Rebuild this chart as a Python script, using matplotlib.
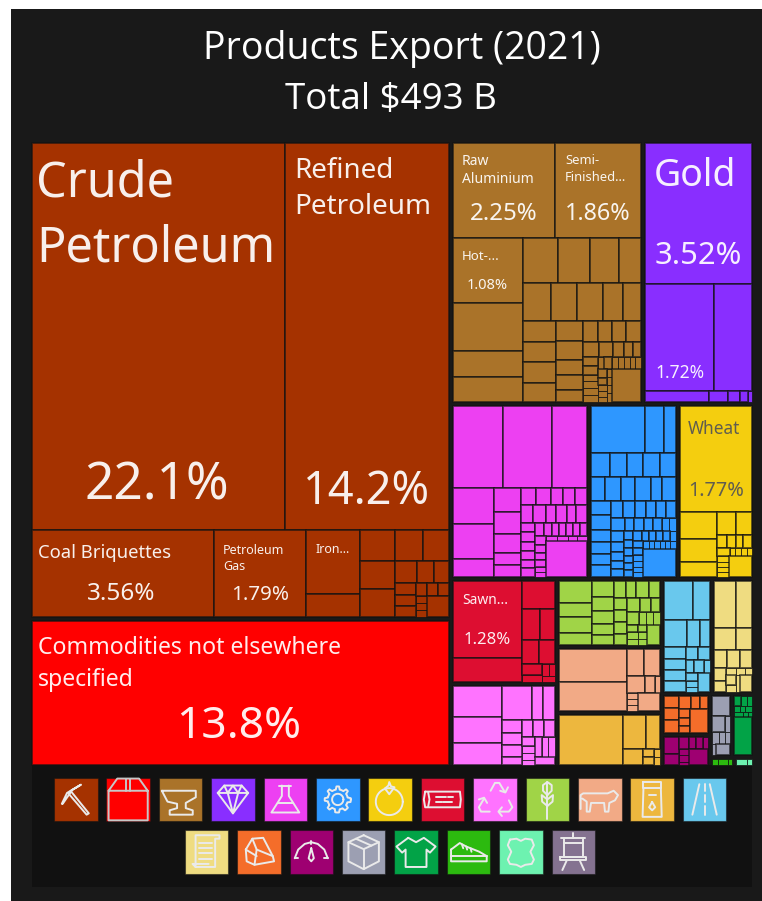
import matplotlib
matplotlib.use("Agg")
import matplotlib.pyplot as plt
from matplotlib.patches import Rectangle
import numpy as np

plt.rcParams['font.family'] = ['Noto Sans', 'DejaVu Sans']

# share of total exports per section, percent
group_names = ["Mineral", "Commodities", "Metals", "Precious", "Chemicals", "Machines", "Foodstuffs",
               "Wood", "Plastics", "Vegetable", "Animal", "AnimalVeg", "Transport", "Paper",
               "Stone", "Instruments", "Misc", "Textiles", "Footwear", "Hides"]
group_share = [44.35, 13.73, 11.14, 6.47, 5.35, 3.44, 2.93,
               2.46, 1.94, 1.58, 1.53, 1.25, 1.27, 1.07,
               0.429, 0.344, 0.30, 0.31, 0.053, 0.044]
group_colors = ["#A53200", "#FF0000", "#AA7329", "#892EFF", "#ED40F2", "#2E97FF", "#F4CE0F",
                "#DD0E31", "#FF73FF", "#A0D447", "#F2AA86", "#EDB73E", "#69C8ED", "#EFDC81",
                "#F46D2A", "#9E0071", "#9C9FB2", "#02A347", "#2CBA0F", "#6DF2B0"]
# how the sections stack: n > 0 = row of n across the top, n < 0 = column of n at the left
group_rows = [-2, 2, 3, -2, -3, 2, -2, 2, -1, -1]

# products per section, estimated value in $M
mineral = [107702, 69389, 17322, 8804, 3802, 1366, 1159, 1047, 1047, 955, 887, 532, 411, 363,
           266, 266, 266, 157, 157, 143, 85, 85, 85, 485]
mineral_rows = [2, -1, -1, -2, -3, 2, 3, -3, 3, -3, 1]
commodities = [67000]
commodities_rows = [1]
metals = [10547, 8789, 5009, 3643, 1973, 1898, 1733, 1584, 1436, 1089, 1170, 1087, 1087, 836, 752,
          762, 726, 762, 690, 564, 564, 446, 446, 356, 330, 308, 308, 308, 264, 231, 182, 149, 132,
          139, 139, 108, 108, 108, 108, 90, 100, 90, 80, 80, 70, 70, 88, 77, 66, 55, 55,
          39, 39, 44, 44, 1021]
metals_rows = [2, -4, 4, 5, -4, -5, 4, 5, -6, 7, -5, -4, 1]
precious = [16596, 8121, 4473, 774, 230, 145, 92, 53]
precious_rows = [1, 2, -1, -1, -1, 2]
chemicals = [4455, 4277, 3119, 1624, 1533, 812, 713, 624, 564, 356, 356, 280, 262, 224, 224, 224,
             238, 238, 198, 218, 178, 218, 123, 154, 139, 139, 123, 139,
             106, 106, 92, 92, 92, 92, 92, 99, 88, 77, 77, 55, 55, 60, 60, 50, 55, 1624]
chemicals_rows = [3, -3, -5, 5, 6, -6, 7, -6, 4, 1]
machines = [2732, 961, 607, 502, 449, 422, 449, 422, 370, 422, 370, 422, 290, 370,
            308, 308, 275, 264, 231, 264, 224, 224, 206, 187, 187, 187,
            185, 119, 132, 119, 119, 92, 92, 157, 143, 129, 114, 114,
            89, 79, 79, 69, 69, 69, 99, 77, 77, 77, 77, 66,
            77, 77, 66, 66, 55, 55, 53, 44, 53, 44, 44, 53, 1016]
machines_rows = [3, 5, 6, -6, 6, 7, -5, -6, 6, -6, 6, 1]
foodstuffs = [8237, 1099, 895, 610, 481, 405, 143, 129, 100, 129, 114, 44, 53, 53, 44, 79, 66, 66, 66, 531]
foodstuffs_rows = [1, -3, 2, 4, 5, -4, 1]
wood = [5768, 1822, 980, 614, 512, 449, 422, 242, 154, 79, 72, 86]
wood_rows = [-2, 1, 2, 2, -2, 2, 1]
plastics = [1671, 1401, 1186, 1089, 399, 436, 286, 264, 242, 176, 206, 206, 206, 129, 100, 100, 72,
            154, 132, 132, 176]
plastics_rows = [-3, 3, -4, 3, -4, 3, 1]
vegetable = [799, 508, 581, 436, 387, 339, 315, 266, 242, 224, 187, 243, 206, 172, 172, 172, 157,
             186, 157, 129, 172, 100, 100, 100, 85, 73, 73, 77, 66, 66, 277]
vegetable_rows = [-4, -5, 4, -4, 3, 4, -3, -3, 1]
animal = [2468, 2169, 505, 475, 337, 187, 94, 73, 73, 73, 436]
animal_rows = [-2, 2, 3, -3, 1]
animalveg = [3520, 860, 524, 352, 97, 53, 97, 53]
animalveg_rows = [-1, 2, -1, 2, 2]
transport = [1244, 729, 683, 386, 297, 290, 266, 266, 266, 172, 172, 114, 143, 86, 106, 79, 66, 251]
transport_rows = [2, 3, -4, 2, 3, -3, 1]
paper = [1137, 827, 532, 387, 272, 251, 251, 172, 145, 77, 69, 54, 110, 77, 75, 224]
paper_rows = [2, 2, 3, -2, 3, -2, -1, 1]
stone = [198, 198, 198, 157, 129, 114, 99, 77, 77, 455]
stone_rows = [-3, 3, -3, 1]
instruments = [280, 181, 119, 92, 92, 66, 55, 66, 33, 317]
instruments_rows = [-2, 4, -3, 1]
misc = [356, 214, 82, 86, 86, 57, 44, 154]
misc_rows = [1, 2, 3, 2]
textiles = [77, 66, 55, 46, 33, 46, 55, 27, 22, 752]
textiles_rows = [3, 3, 3, 1]
footwear = [36, 60, 24]
footwear_rows = [-1, -1, -1]
hides = [48, 24]
hides_rows = [-1, -1]

group_values = [mineral, commodities, metals, precious, chemicals, machines, foodstuffs, wood, plastics,
                vegetable, animal, animalveg, transport, paper, stone, instruments, misc, textiles,
                footwear, hides]
group_layout = [mineral_rows, commodities_rows, metals_rows, precious_rows, chemicals_rows, machines_rows,
                foodstuffs_rows, wood_rows, plastics_rows, vegetable_rows, animal_rows, animalveg_rows,
                transport_rows, paper_rows, stone_rows, instruments_rows, misc_rows, textiles_rows,
                footwear_rows, hides_rows]

legend_colors = ["#A53200", "#FF0000", "#AA7329", "#892EFF", "#ED40F2", "#2E97FF", "#F4CE0F", "#DD0E31",
                 "#FF73FF", "#A0D447", "#F2AA86", "#EDB73E", "#69C8ED",
                 "#EFDC81", "#F46D2A", "#9E0071", "#9C9FB2", "#02A347", "#2CBA0F", "#6DF2B0", "#847290"]


def layout(values, rows, x0, y0, x1, y1):
    assert sum(abs(n) for n in rows) == len(values)
    total = float(sum(values))
    out = []
    i = 0
    for n in rows:
        part = values[i:i + abs(n)]
        s = float(sum(part))
        if n > 0:
            h = (y1 - y0) * s / total
            x = x0
            for v in part:
                w = (x1 - x0) * v / s
                out.append((x, y0, w, h))
                x += w
            y0 += h
        else:
            w = (x1 - x0) * s / total
            y = y0
            for v in part:
                h = (y1 - y0) * v / s
                out.append((x0, y, w, h))
                y += h
            x0 += w
        total -= s
        i += abs(n)
    return out


fig = plt.figure(figsize=(7.62, 9.01), dpi=100, facecolor="white")
ax = fig.add_axes([0, 0, 1, 1])
ax.set_xlim(0, 762)
ax.set_ylim(901, 0)
ax.axis("off")

ax.add_patch(Rectangle((11, 8.5), 751, 892.5, fc="#191919", ec="none"))
ax.add_patch(Rectangle((32, 765), 720, 122, fc="#111111", ec="none"))

ax.text(402, 49, "Products Export (2021)", color="white", fontsize=27, ha="center", va="center", family="Open Sans")
ax.text(391, 100, "Total $493 B", color="white", fontsize=26.5, ha="center", va="center", family="Open Sans")

# treemap: sections first, then the products inside each section
pad = 2
sections = layout(group_share, group_rows, 30, 141, 754, 767)
for (gx, gy, gw, gh), vals, rows, col in zip(sections, group_values, group_layout, group_colors):
    tiles = layout(vals, rows, gx + pad, gy + pad, gx + gw - pad, gy + gh - pad)
    for (x, y, w, h) in tiles:
        lw = 1.25 if min(w, h) > 7 else 0.7
        ax.add_patch(Rectangle((x, y), w, h, fc=col, ec=(0.07, 0.07, 0.07, 0.72), lw=lw, zorder=3))


def label(x, y, s, size, color="white", ha="left"):
    ax.text(x, y + 2.5, s, fontsize=size, color=color, ha=ha, va="center", family=["Noto Sans", "DejaVu Sans"], alpha=0.93, zorder=4)


label(36, 181, "Crude", 35)
label(36, 246, "Petroleum", 35)
label(157, 484, "22.1%", 37, ha="center")
label(294, 168, "Refined", 20)
label(294, 205, "Petroleum", 20)
label(367, 490, "14.2%", 32.5, ha="center")
label(38, 551, "Coal Briquettes", 13.3)
label(121, 591, "3.56%", 17.5, ha="center")
label(223, 548, "Petroleum", 9)
label(223, 564, "Gas", 9)
label(260, 593, "1.79%", 14.8, ha="center")
label(316, 547, "Iron...", 9)
label(38, 645, "Commodities not elsewhere", 16.6)
label(38, 677, "specified", 16.6)
label(239, 725, "13.8%", 32, ha="center")
label(462, 159, "Raw", 10)
label(462, 177, "Aluminium", 10)
label(504, 211, "2.25%", 17.3, ha="center")
label(565, 158, "Semi-", 9.3)
label(565, 175, "Finished...", 9.3)
label(598, 211, "1.86%", 16.8, ha="center")
label(462, 254, "Hot-...", 9.5)
label(487, 283, "1.08%", 10.5, ha="center")
label(654, 174, "Gold", 27)
label(698, 253, "3.52%", 22.3, ha="center")
label(680, 370, "1.72%", 12.5, ha="center")
label(714, 426, "Wheat", 12.4, color="#555555", ha="center")
label(716, 488, "1.77%", 14.3, color="#555555", ha="center")
label(462, 598, "Sawn...", 10)
label(487, 637, "1.28%", 12, ha="center")

# legend icons, drawn as white outlines in a 0-1 box
t = np.linspace(0, 2 * np.pi, 40)
def ring(cx, cy, r):
    return list(zip(cx + r * np.cos(t), cy + r * np.sin(t)))

gear = []
for a in np.linspace(0, 2 * np.pi, 65):
    r = 0.30 if np.cos(8 * a) > 0 else 0.23
    gear.append((0.5 + r * np.cos(a), 0.5 + r * np.sin(a)))

icons = [
    # pickaxe
    [[(.18, .6), (.3, .35), (.62, .16), (.42, .28), (.2, .6)], [(.38, .3), (.8, .82), (.75, .85), (.33, .36)]],
    # box
    [[(.05, .3), (.05, .98), (.95, .98), (.95, .3), (.75, .02), (.25, .02), (.05, .3), (.95, .3)],
     [(.45, .02), (.45, .3)], [(.55, .02), (.55, .3)]],
    # anvil
    [[(.07, .3), (.85, .3), (.85, .45), (.62, .58), (.62, .7), (.78, .75), (.78, .85), (.25, .85), (.25, .75),
      (.42, .7), (.42, .6), (.2, .55), (.07, .3)]],
    # diamond
    [[(.15, .35), (.3, .18), (.7, .18), (.85, .35), (.5, .82), (.15, .35), (.85, .35)],
     [(.3, .18), (.38, .35), (.5, .82), (.62, .35), (.7, .18)], [(.38, .35), (.5, .18), (.62, .35)]],
    # flask
    [[(.36, .18), (.64, .18)], [(.42, .18), (.42, .42), (.18, .8), (.82, .8), (.58, .42), (.58, .18)],
     [(.32, .58), (.68, .58)]],
    # gear
    [gear, ring(.5, .5, .13)],
    # orange
    [ring(.48, .55, .31), [(.38, .25), (.46, .18), (.48, .1), (.52, .2), (.6, .22), (.54, .3), (.48, .38), (.42, .3), (.38, .25)]],
    # log
    [[(.1, .32), (.9, .32), (.92, .5), (.9, .68), (.1, .68), (.07, .5), (.1, .32)], [(.17, .34), (.2, .5), (.17, .66)],
     [(.35, .44), (.58, .44)], [(.62, .44), (.75, .44)], [(.35, .55), (.48, .55)], [(.5, .55), (.72, .55)]],
    # recycle
    [[(.4, .3), (.5, .12), (.6, .12), (.72, .32)], [(.62, .3), (.74, .34), (.8, .22)],
     [(.82, .52), (.9, .68), (.82, .78), (.6, .78)], [(.66, .68), (.58, .78), (.66, .88)],
     [(.38, .78), (.18, .78), (.13, .68), (.25, .48)], [(.13, .5), (.25, .46), (.32, .58)]],
    # wheat
    [[(.5, .1), (.5, .95)], [(.5, .65), (.38, .55), (.37, .4), (.5, .5), (.63, .4), (.62, .55), (.5, .65)],
     [(.5, .4), (.4, .3), (.4, .17), (.5, .1), (.6, .17), (.6, .3), (.5, .4)]],
    # cow
    [[(.06, .72), (.06, .4), (.12, .36), (.68, .36), (.82, .3), (.92, .4), (.85, .52), (.72, .58), (.7, .78), (.62, .78),
      (.6, .58), (.3, .58), (.27, .78), (.2, .78), (.2, .55), (.1, .48)]],
    # milk carton
    [[(.3, .1), (.7, .1), (.7, .24), (.3, .24), (.3, .1)], [(.3, .24), (.28, .9), (.72, .9), (.7, .24)],
     [(.42, .4), (.58, .4)], [(.5, .56), (.43, .68), (.5, .75), (.57, .68), (.5, .56)]],
    # road
    [[(.38, .15), (.22, .85)], [(.62, .15), (.78, .85)], [(.5, .15), (.5, .3)], [(.5, .4), (.5, .55)], [(.5, .65), (.5, .85)]],
    # scroll
    [[(.25, .85), (.25, .12), (.8, .12), (.8, .2), (.7, .2), (.7, .85), (.25, .85), (.18, .78), (.55, .78)],
     [(.33, .3), (.62, .3)], [(.33, .42), (.62, .42)], [(.33, .54), (.62, .54)], [(.33, .66), (.62, .66)]],
    # rock
    [[(.2, .45), (.35, .2), (.6, .18), (.82, .6), (.85, .72), (.4, .8), (.22, .72), (.2, .45)],
     [(.35, .2), (.45, .45), (.82, .6)], [(.45, .45), (.4, .8)], [(.2, .45), (.45, .6)]],
    # gauge
    [[(.12, .65), (.2, .45), (.35, .32), (.5, .28), (.65, .32), (.8, .45), (.88, .65)], [(.12, .65), (.2, .65)], [(.8, .65), (.88, .65)],
     [(.5, .25), (.5, .32)], [(.5, .42), (.44, .65), (.5, .72), (.56, .65), (.5, .42)]],
    # cube
    [[(.5, .12), (.85, .28), (.85, .72), (.5, .9), (.15, .72), (.15, .28), (.5, .12)], [(.15, .28), (.5, .44), (.85, .28)],
     [(.5, .44), (.5, .9)], [(.32, .2), (.68, .36)]],
    # shirt
    [[(.32, .18), (.5, .28), (.68, .18), (.95, .38), (.82, .52), (.74, .45), (.74, .85), (.26, .85), (.26, .45), (.18, .52), (.05, .38), (.32, .18)]],
    # shoe
    [[(.1, .45), (.3, .3), (.45, .38), (.75, .5), (.92, .6), (.92, .72), (.1, .72), (.1, .45)], [(.1, .6), (.92, .6)],
     [(.35, .33), (.38, .42)], [(.45, .38), (.47, .45)], [(.55, .42), (.57, .5)]],
    # hide
    [[(.25, .22), (.4, .2), (.5, .25), (.6, .2), (.75, .22), (.8, .35), (.72, .5), (.8, .68), (.75, .78), (.6, .8), (.5, .85),
      (.4, .8), (.25, .78), (.2, .68), (.28, .5), (.2, .35), (.25, .22)]],
    # easel
    [[(.22, .18), (.78, .18)], [(.28, .18), (.28, .62), (.72, .62), (.72, .18)], [(.2, .62), (.8, .62), (.8, .7), (.2, .7), (.2, .62)],
     [(.35, .7), (.25, .92)], [(.65, .7), (.75, .92)], [(.5, .08), (.5, .18)], [(.28, .3), (.72, .3)]],
]

step = 52.4
size = 43.5
for i, col in enumerate(legend_colors):
    if i < 13:
        lx, ly = 54 + i * step, 777.7
    else:
        lx, ly = 184.7 + (i - 13) * step, 830
    ax.add_patch(Rectangle((lx, ly), size, size, fc=col, ec=(0.07, 0.07, 0.07, 0.5), lw=0.8))
    for line in icons[i]:
        pts = np.array(line)
        ec = "#C8C8C8" if i == 1 else "#EAEAEA"
        ax.plot(lx + pts[:, 0] * size, ly + pts[:, 1] * size, color=ec, lw=1.4, solid_capstyle="round", solid_joinstyle="round")

fig.savefig("out.png", dpi=100)
